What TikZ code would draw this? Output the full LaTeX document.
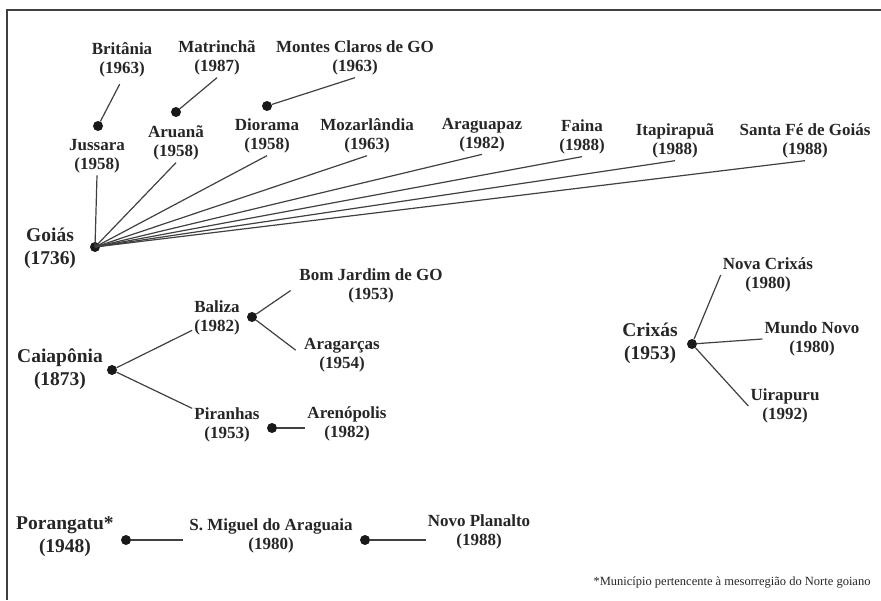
\documentclass[tikz,border=0pt]{standalone}
\usepackage{fontspec}
\setmainfont{Liberation Serif}
\usepackage{tikz}
\usetikzlibrary{calc}
\tikzset{ mun/.style = {align=center, font=\fontsize{17}{19.5}\selectfont\bfseries, text=black!85, inner sep=2pt} }
\tikzset{ sede/.style = {align=center, font=\fontsize{19.5}{23}\selectfont\bfseries, text=black!85, inner sep=2pt} }
\tikzset{ pto/.style = {circle, fill=black!90, inner sep=0pt, minimum size=10pt} }
\tikzset{ lien/.style = {line width=1.2pt, draw=black!75} }

\begin{document}
\begin{tikzpicture}[x=1pt,y=-1pt]
            \useasboundingbox (0,0) rectangle (881,600);
            \draw[line width=2pt, black!75] (881,10) -- (7,10) -- (7,600);
            \node [style=mun] (britania) at (122,60) {Britânia\\(1963)};
            \node [style=mun] (matrincha) at (217,58) {Matrinchã\\(1987)};
            \node [style=mun] (montes) at (355,58) {Montes Claros de GO\\(1963)};
            \node [style=pto] (jussarap) at (98,126) {};
            \node [style=mun] (jussara) at (97,156) {Jussara\\(1958)};
            \node [style=pto] (aruanap) at (176,112) {};
            \node [style=mun] (aruana) at (176,143) {Aruanã\\(1958)};
            \node [style=pto] (dioramap) at (267,106) {};
            \node [style=mun] (diorama) at (267,136) {Diorama\\(1958)};
            \node [style=mun] (mozar) at (367,136) {Mozarlândia\\(1963)};
            \node [style=mun] (araguapaz) at (482,135) {Araguapaz\\(1982)};
            \node [style=mun] (faina) at (582,137) {Faina\\(1988)};
            \node [style=mun] (itapirapua) at (675,141) {Itapirapuã\\(1988)};
            \node [style=mun] (santafe) at (805,141) {Santa Fé de Goiás\\(1988)};
            \node [style=pto] (goiasp) at (95,247) {};
            \node [style=sede] (goias) at (50,248) {Goiás\\(1736)};
            \draw[style=lien, shorten >=5pt] (jussarap) to (britania.south);
            \draw[style=lien] (aruanap) to (matrincha.south);
            \draw[style=lien] (dioramap) to (montes.south);
            \draw[style=lien] (goiasp.center) to (jussara.south);
            \draw[style=lien] (goiasp.center) to (aruana.south);
            \draw[style=lien] (goiasp.center) to (diorama.south);
            \draw[style=lien] (goiasp.center) to (mozar.south);
            \draw[style=lien] (goiasp.center) to (araguapaz.south);
            \draw[style=lien] (goiasp.center) to (faina.south);
            \draw[style=lien] (goiasp.center) to (itapirapua.south);
            \draw[style=lien] (goiasp.center) to (santafe.south);
            \node [style=sede] (caiaponia) at (60,369) {Caiapônia\\(1873)};
            \node [style=pto] (caiaponiap) at (112,370) {};
            \node [style=mun] (baliza) at (217,318) {Baliza\\(1982)};
            \node [style=pto] (balizap) at (252,317) {};
            \node [style=mun] (bomjardim) at (371,286) {Bom Jardim de GO\\(1953)};
            \node [style=mun] (aragarcas) at (342,355) {Aragarças\\(1954)};
            \node [style=mun] (piranhas) at (227,425) {Piranhas\\(1953)};
            \node [style=pto] (piranhasp) at (272,428) {};
            \node [style=mun] (arenopolis) at (347,424) {Arenópolis\\(1982)};
            \draw[style=lien] (caiaponiap) to (baliza);
            \draw[style=lien] (caiaponiap) to (piranhas);
            \draw[style=lien, shorten >=8pt] (balizap) to (bomjardim.west);
            \draw[style=lien, shorten >=8pt] (balizap) to (aragarcas.west);
            \draw[style=lien] (piranhasp) to (piranhasp -| arenopolis.west);
            \node [style=sede] (crixas) at (650,343) {Crixás\\(1953)};
            \node [style=pto] (crixasp) at (692,344) {};
            \node [style=mun] (novacrixas) at (768,275) {Nova Crixás\\(1980)};
            \node [style=mun] (mundonovo) at (812,339) {Mundo Novo\\(1980)};
            \node [style=mun] (uirapuru) at (785,406) {Uirapuru\\(1992)};
            \draw[style=lien] (crixasp) to (novacrixas.west);
            \draw[style=lien] (crixasp) to (mundonovo.west);
            \draw[style=lien] (crixasp) to (uirapuru.west);
            \node [style=sede] (porangatu) at (65,537) {Porangatu*\\(1948)};
            \node [style=pto] (porangatup) at (126,540) {};
            \node [style=mun] (smiguel) at (271,536) {S. Miguel do Araguaia\\(1980)};
            \node [style=pto] (smiguelp) at (365,540) {};
            \node [style=mun] (novoplanalto) at (479,532) {Novo Planalto\\(1988)};
            \draw[style=lien, shorten >=4pt] (porangatup) to (porangatup -| smiguel.west);
            \draw[style=lien] (smiguelp) to (smiguelp -| novoplanalto.west);
            \node [font=\fontsize{12.5}{14}\selectfont, text=black!85] (nota) at (732,582) {*Município pertencente à mesorregião do Norte goiano};
\end{tikzpicture}
\end{document}
